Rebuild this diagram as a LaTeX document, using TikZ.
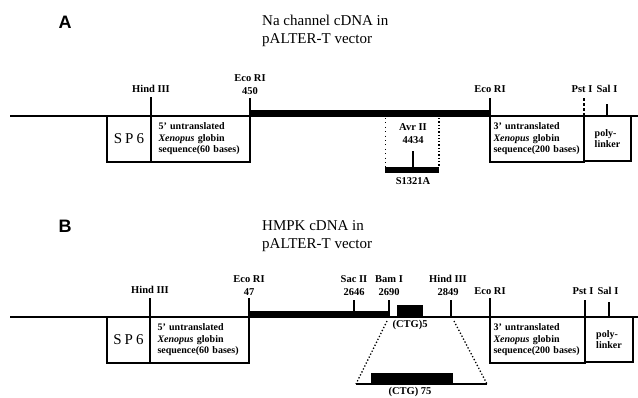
\documentclass[tikz,border=0pt]{standalone}
\usepackage{fontspec}
\setmainfont{Liberation Serif}
\newfontfamily\panelfont{Liberation Sans}
\newfontfamily\spfont[LetterSpace=20]{Liberation Serif}
\begin{document}
\begin{tikzpicture}[x=1pt, y=-1pt,
  vector/.style={line width=1.2pt},
  region/.style={draw, line width=1.2pt, anchor=north west, minimum height=46pt,
                 inner sep=0pt, outer sep=0pt},
  utr/.style={region, align=left, inner xsep=7pt,
              font=\fontsize{10}{11.5}\selectfont\bfseries},
  site/.style={anchor=south, align=center, inner sep=0pt,
               font=\fontsize{10.5}{13}\selectfont\bfseries},
  cut/.style={line width=1.2pt},
  insert/.style={line width=6pt},
  repeat/.style={fill=black, inner sep=0pt},
  title/.style={anchor=north west, align=left, inner sep=0pt,
                font=\fontsize{15}{18}\selectfont},
  panel/.style={inner sep=0pt, font=\panelfont\fontsize{18}{18}\selectfont\bfseries}
]
  \useasboundingbox (0,0) rectangle (638,397);

  % ---------------- A: Na channel
  \node[panel] (labA) at (65,22) {A};
  \node[title] (titA) at (262,15) {Na channel cDNA in\\pALTER-T vector};

  \draw[vector] (10,116) -- (638,116);
  \node[region, minimum width=44pt, font=\spfont\fontsize{15}{16}\selectfont] (spA) at (107,116) {SP6};
  \node[utr, minimum width=99pt, text width=84pt] (fiveA) at (151,116)
    {5' untranslated\\\textit{Xenopus} globin\\sequence(60 bases)};
  \node[utr, minimum width=94pt, text width=87pt, inner xsep=3pt] (threeA) at (490,116)
    {3' untranslated\\\textit{Xenopus} globin\\sequence(200 bases)};
  \node[region, minimum width=47pt, minimum height=45pt, align=left,
        font=\fontsize{10}{11.5}\selectfont\bfseries] (polyA) at (584,116) {poly-\\linker};
  \draw[insert] (250,113) -- (490,113);

  \node[site] (hindA) at (151,93) {Hind III};
  \node[site] (ecoA) at (250,95) {Eco RI\\450};
  \node[site] (ecoAr) at (490,93) {Eco RI};
  \node[site] (pstA) at (582,93) {Pst I};
  \node[site] (salA) at (607,93) {Sal I};
  \draw[cut] (151,97) -- (fiveA.north west);
  \draw[cut] (250,98) -- (fiveA.north east);
  \draw[cut] (490,98) -- (threeA.north west);
  \draw[cut, densely dashed] (584,98) -- (polyA.north west);
  \draw[cut] (607,104) -- (607,116);

  % mutation site
  \draw[thin, loosely dotted] (385,118) -- (385,167);
  \draw[line width=1.3pt, dotted] (439,118) -- (439,167);
  \node[site, anchor=center] (avrA) at (413,134) {Avr II\\4434};
  \draw[insert] (385,170) -- (439,170);
  \draw[cut] (413,151) -- (413,167);
  \node[site, anchor=center] (mutA) at (413,181) {S1321A};

  % ---------------- B: HMPK
  \node[panel] (labB) at (65,226) {B};
  \node[title] (titB) at (262,220) {HMPK cDNA in\\pALTER-T vector};

  \draw[vector] (10,317) -- (638,317);
  \node[region, minimum width=43pt, font=\spfont\fontsize{15}{16}\selectfont] (spB) at (107,317) {SP6};
  \node[utr, minimum width=99pt, text width=84pt] (fiveB) at (150,317)
    {5' untranslated\\\textit{Xenopus} globin\\sequence(60 bases)};
  \node[utr, minimum width=95pt, text width=88pt, inner xsep=3pt] (threeB) at (490,317)
    {3' untranslated\\\textit{Xenopus} globin\\sequence(200 bases)};
  \node[region, minimum width=48pt, minimum height=45pt, align=left,
        font=\fontsize{10}{11.5}\selectfont\bfseries] (polyB) at (585,317) {poly-\\linker};
  \draw[insert] (249,314) -- (389,314);
  \node[repeat, minimum width=26pt, minimum height=12pt] (ctgB) at (410,311) {};
  \node[site, anchor=center] (ctgBl) at (410,325) {(CTG)5};

  \node[site] (hindB) at (150,294) {Hind III};
  \node[site] (ecoB) at (249,296) {Eco RI\\47};
  \node[site] (sacB) at (354,296) {Sac II\\2646};
  \node[site] (bamB) at (389,296) {Bam I\\2690};
  \node[site] (hindBr) at (448,296) {Hind III\\2849};
  \node[site] (ecoBr) at (490,295) {Eco RI};
  \node[site] (pstB) at (583,295) {Pst I};
  \node[site] (salB) at (608,295) {Sal I};
  \draw[cut] (150,298) -- (fiveB.north west);
  \draw[cut] (249,298) -- (fiveB.north east);
  \draw[cut] (354,300) -- (354,311);
  \draw[cut] (389,300) -- (389,317);
  \draw[cut] (451,300) -- (451,317);
  \draw[cut] (490,298) -- (threeB.north west);
  \draw[cut] (585,300) -- (polyB.north west);
  \draw[cut] (609,302) -- (609,317);

  % expanded repeat
  \coordinate (zl) at (356,384);
  \coordinate (zr) at (487,384);
  \draw[line width=1.3pt, dotted] (387,321) -- (zl);
  \draw[line width=1.3pt, dotted] (454,321) -- (zr);
  \draw[cut] (zl) -- (zr);
  \node[repeat, minimum width=82pt, minimum height=11pt] (ctgL) at (412,378.5) {};
  \node[site, anchor=center] (ctgLl) at (410,392) {(CTG) 75};
\end{tikzpicture}
\end{document}
